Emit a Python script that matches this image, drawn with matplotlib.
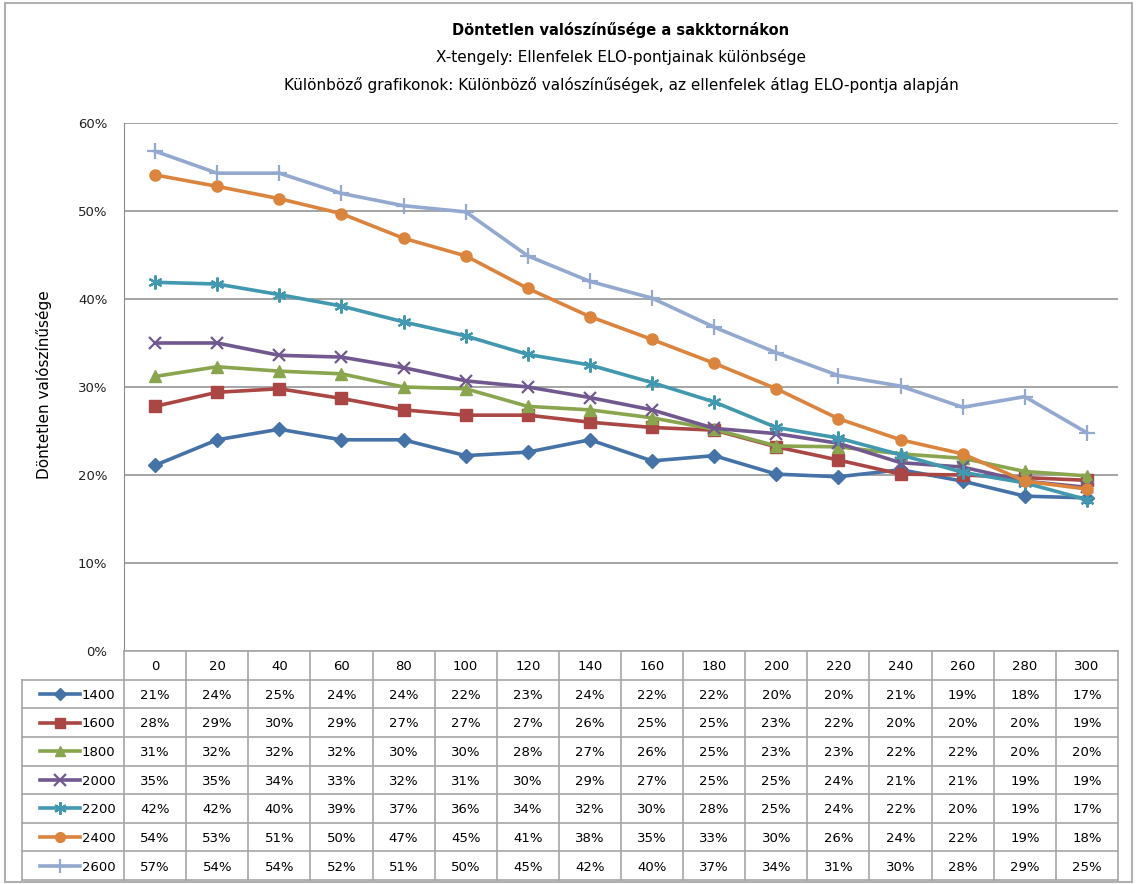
import matplotlib
matplotlib.use("Agg")
import matplotlib.pyplot as plt
from matplotlib.patches import Rectangle

W, H = 1136, 884

# ELO difference of the opponents (x axis)
diffs = [0, 20, 40, 60, 80, 100, 120, 140, 160, 180, 200, 220, 240, 260, 280, 300]
# average ELO of the opponents (one series each)
elo_levels = ['1400', '1600', '1800', '2000', '2200', '2400', '2600']

p1400 = [0.211, 0.240, 0.252, 0.240, 0.240, 0.222, 0.226, 0.240, 0.216, 0.222, 0.201, 0.198, 0.206, 0.193, 0.176, 0.174]
p1600 = [0.278, 0.294, 0.298, 0.287, 0.274, 0.268, 0.268, 0.260, 0.254, 0.251, 0.232, 0.217, 0.201, 0.200, 0.197, 0.194]
p1800 = [0.312, 0.323, 0.318, 0.315, 0.300, 0.298, 0.278, 0.274, 0.265, 0.252, 0.233, 0.232, 0.224, 0.219, 0.204, 0.199]
p2000 = [0.350, 0.350, 0.336, 0.334, 0.322, 0.307, 0.300, 0.288, 0.274, 0.253, 0.247, 0.236, 0.214, 0.209, 0.193, 0.186]
p2200 = [0.419, 0.417, 0.405, 0.392, 0.374, 0.358, 0.337, 0.325, 0.305, 0.283, 0.254, 0.242, 0.223, 0.203, 0.191, 0.172]
p2400 = [0.541, 0.528, 0.514, 0.497, 0.469, 0.449, 0.412, 0.380, 0.354, 0.327, 0.298, 0.264, 0.240, 0.224, 0.193, 0.184]
p2600 = [0.568, 0.543, 0.543, 0.520, 0.506, 0.499, 0.449, 0.420, 0.401, 0.368, 0.339, 0.313, 0.301, 0.277, 0.289, 0.248]
series = [p1400, p1600, p1800, p2000, p2200, p2400, p2600]

colors = ['#4572A7', '#AA4643', '#89A54E', '#71588F', '#4198AF', '#DB843D', '#93A9CF']
markers = ['D', 's', '^', 'x', (6, 2, 0), 'o', '+']
msizes = [7, 8, 8, 9, 10, 8, 11]

def rect(l, t, r, b):
    # pixel box -> figure fraction
    return [l / W, 1 - b / H, (r - l) / W, (b - t) / H]

def mew(m):
    return 1.6 if m in ('x', '+') or isinstance(m, tuple) else 1

fig = plt.figure(figsize=(W / 100, H / 100), dpi=100)
fig.patches.append(Rectangle((5 / W, 2 / H), 1127 / W, 879 / H, transform=fig.transFigure,
                             fill=False, edgecolor='#B0B0B0', lw=1.5))

# ---- chart
ax = fig.add_axes(rect(124, 123, 1118, 651))
xs = list(range(len(diffs)))
for vals, c, m, ms in zip(series, colors, markers, msizes):
    ax.plot(xs, vals, color=c, lw=2.6, marker=m, ms=ms, mew=mew(m),
            mfc=c, mec=c, clip_on=False, zorder=3)
ax.set_xlim(-0.5, len(diffs) - 0.5)
ax.set_ylim(0, 0.6)
ax.set_yticks([0, 0.1, 0.2, 0.3, 0.4, 0.5, 0.6])
ax.set_yticklabels(['0%', '10%', '20%', '30%', '40%', '50%', '60%'])
ax.tick_params(axis='y', length=0, pad=12, labelsize=9.5, labelcolor='#222222')
ax.set_xticks([])
ax.grid(axis='y', color='#8C8C8C', lw=1.1)
ax.set_axisbelow(True)
for s in ['top', 'right', 'bottom']:
    ax.spines[s].set_visible(False)
ax.spines['left'].set_color('#8C8C8C')

fig.text(44 / W, 1 - 385 / H, 'Döntetlen valószínűsége', rotation=90, ha='center', va='center', fontsize=11)
fig.text(621 / W, 1 - 30 / H, 'Döntetlen valószínűsége a sakktornákon', ha='center', va='center',
         fontsize=10.5, fontweight='bold')
fig.text(621 / W, 1 - 57 / H, 'X-tengely: Ellenfelek ELO-pontjainak különbsége', ha='center', va='center', fontsize=11)
fig.text(621 / W, 1 - 85 / H, 'Különböző grafikonok: Különböző valószínűségek, az ellenfelek átlag ELO-pontja alapján',
         ha='center', va='center', fontsize=11)

# ---- data table under the chart
tax = fig.add_axes(rect(22, 651, 1118, 880))
unit = 994 / len(diffs)
xl = -0.5 - 102 / unit
xr = len(diffs) - 0.5
nrow = len(series) + 1
tax.set_xlim(xl, xr)
tax.set_ylim(nrow, 0)
tax.axis('off')
gc = '#A6A6A6'
tax.plot([-0.5, xr], [0, 0], color=gc, lw=1.2, clip_on=False)
for r in range(1, nrow + 1):
    tax.plot([xl, xr], [r, r], color=gc, lw=1.2, clip_on=False)
for k in range(len(diffs) + 1):
    tax.plot([-0.5 + k, -0.5 + k], [0, nrow], color=gc, lw=1.2, clip_on=False)
tax.plot([xl, xl], [1, nrow], color=gc, lw=1.2, clip_on=False)

for i, d in enumerate(diffs):
    tax.text(i, 0.55, str(d), ha='center', va='center', fontsize=9.5)
for r, (name, vals, c, m, ms) in enumerate(zip(elo_levels, series, colors, markers, msizes)):
    y = r + 1.55
    for i, v in enumerate(vals):
        tax.text(i, y, f'{v:.0%}', ha='center', va='center', fontsize=9.5)
    tax.plot([xl + 0.29, xl + 0.93], [y - 0.05, y - 0.05], color=c, lw=2.6, clip_on=False)
    tax.plot([xl + 0.61], [y - 0.05], color=c, marker=m, ms=ms - 1, mew=mew(m), clip_on=False)
    tax.text(xl + 0.96, y, name, ha='left', va='center', fontsize=9.5)

fig.savefig('out.png', dpi=100)
